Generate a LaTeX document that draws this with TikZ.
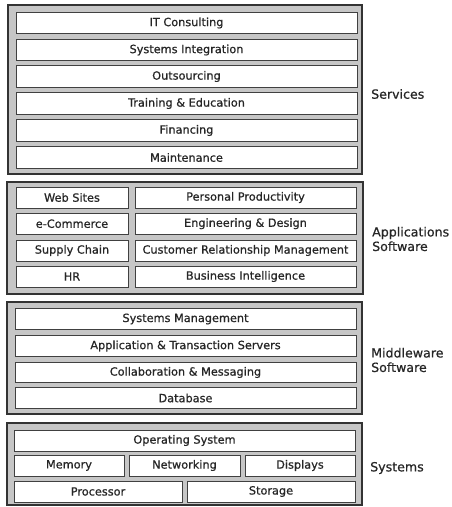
\documentclass[tikz,border=0pt]{standalone}
\usepackage{fontspec}
\setmainfont{DejaVu Sans}
\newfontfamily\medfont[FakeBold=0.7]{DejaVu Sans}
\begin{document}
\begin{tikzpicture}[x=1pt,y=-1pt,
  layer/.style={draw=black!80, line width=1.6pt, fill=gray!45},
  cell/.style={draw=black!75, line width=1pt, fill=white, inner sep=0pt,
    font=\medfont\fontsize{11.3}{12}\selectfont, text=black!85},
  side/.style={anchor=west, align=left, inner sep=0pt,
    font=\medfont\fontsize{12.6}{14.5}\selectfont, text=black!85}]
\useasboundingbox (0,0) rectangle (451,507);
\fill[white] (0,0) rectangle (451,507);

% Services
\draw[layer] (8,5) rectangle (362,174);
\foreach \n/\t/\c in {itc/IT Consulting/23, sint/Systems Integration/50,
  outs/Outsourcing/76.5, train/Training \& Education/103.5,
  fin/Financing/130.5, maint/Maintenance/157.5}
  \node[cell, minimum width=341pt, minimum height=21.5pt] (\n) at (186.5,\c) {\t};
\node[side] (services) at (371,94) {Services};

% Applications
\draw[layer] (7,182) rectangle (363,294);
\node[cell, minimum width=112pt, minimum height=21pt] (web) at (72,197.5) {Web Sites};
\node[cell, minimum width=112pt, minimum height=21pt] (ecom) at (72,223.7) {e-Commerce};
\node[cell, minimum width=112pt, minimum height=21pt] (supply) at (72,250.5) {Supply Chain};
\node[cell, minimum width=112pt, minimum height=21pt] (hr) at (72,276.5) {HR};
\node[cell, minimum width=221pt, minimum height=21pt] (pp) at (245.5,197.5) {Personal Productivity};
\node[cell, minimum width=221pt, minimum height=21pt] (eng) at (245.5,223.7) {Engineering \& Design};
\node[cell, minimum width=221pt, minimum height=21pt] (crm) at (245.5,250.5) {Customer Relationship Management};
\node[cell, minimum width=221pt, minimum height=21pt] (bi) at (245.5,276.5) {Business Intelligence};
\node[side] (apps) at (372,239) {Applications\\Software};

% Middleware
\draw[layer] (7,302) rectangle (362,414);
\foreach \n/\t/\c in {sysm/Systems Management/319, ats/Application \& Transaction Servers/346,
  collab/Collaboration \& Messaging/372.5, db/Database/398}
  \node[cell, minimum width=341pt, minimum height=20.5pt] (\n) at (185.5,\c) {\t};
\node[side] (mw) at (371,360) {Middleware\\Software};

% Systems
\draw[layer] (7,423) rectangle (362,505);
\node[cell, minimum width=341pt, minimum height=21pt] (os) at (184.5,440.5) {Operating System};
\node[cell, minimum width=110pt, minimum height=21pt] (mem) at (69,465.5) {Memory};
\node[cell, minimum width=111pt, minimum height=21pt] (net) at (184.5,465.5) {Networking};
\node[cell, minimum width=110pt, minimum height=21pt] (disp) at (300,465.5) {Displays};
\node[cell, minimum width=168pt, minimum height=21pt] (proc) at (98,491.5) {Processor};
\node[cell, minimum width=168pt, minimum height=21pt] (stor) at (271,491.5) {Storage};
\node[side] (sys) at (370,468) {Systems};
\end{tikzpicture}
\end{document}
